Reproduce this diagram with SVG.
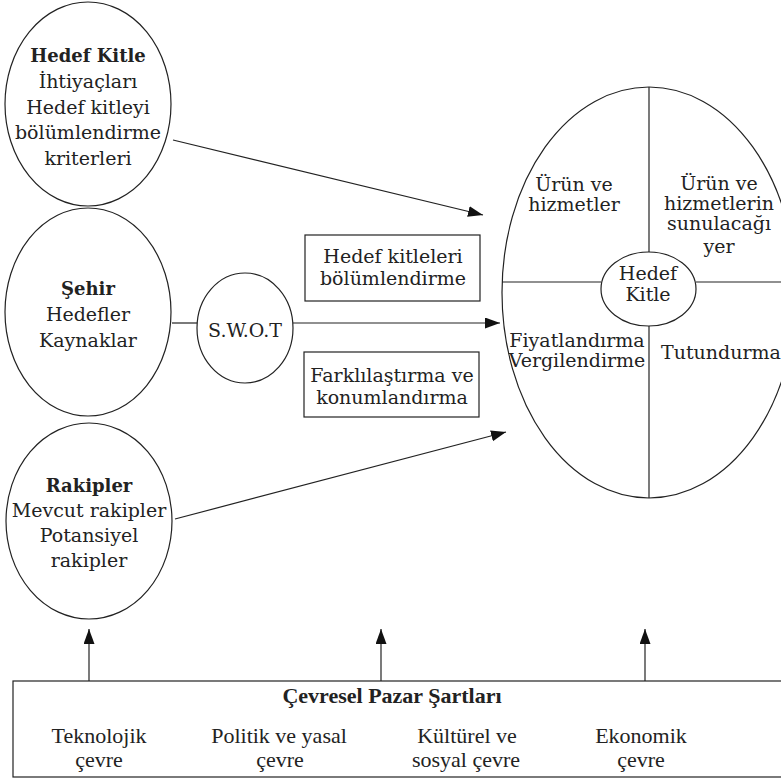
<svg xmlns="http://www.w3.org/2000/svg" width="781" height="782" viewBox="0 0 781 782">
<style>
.sh{fill:#fff;stroke:#222;stroke-width:1.2}
.ln{fill:none;stroke:#222;stroke-width:1.2}
.t{font-family:"DejaVu Serif",serif;font-size:19px;fill:#222;text-anchor:middle}
.b{font-weight:bold;font-size:18px}
.t2{font-family:"Liberation Serif",serif;font-size:22px;fill:#222;text-anchor:middle}
.b2{font-weight:bold;font-size:22px}
</style>
<defs>
<marker id="ah" markerUnits="userSpaceOnUse" markerWidth="16" markerHeight="12" refX="15" refY="5.5" orient="auto">
<path d="M0,0 L15,5.5 L0,11 z" fill="#111"/>
</marker>
</defs>
<rect width="781" height="782" fill="#fff"/>

<g id="connectors">
<line class="ln" x1="173" y1="140" x2="483" y2="215" marker-end="url(#ah)"/>
<line class="ln" x1="172" y1="323" x2="198" y2="323"/>
<line class="ln" x1="293" y1="323" x2="500" y2="323" marker-end="url(#ah)"/>
<line class="ln" x1="175" y1="519" x2="506" y2="432" marker-end="url(#ah)"/>
<line class="ln" x1="89" y1="681" x2="89" y2="629" marker-end="url(#ah)"/>
<line class="ln" x1="381" y1="681" x2="381" y2="629" marker-end="url(#ah)"/>
<line class="ln" x1="645" y1="681" x2="645" y2="629" marker-end="url(#ah)"/>
</g>

<g id="hedef-kitle-node">
<ellipse class="sh" cx="88" cy="104" rx="83" ry="102"/>
<text class="t b" x="88" y="62">Hedef Kitle</text>
<text class="t" x="88" y="88">İhtiyaçları</text>
<text class="t" x="88" y="114">Hedef kitleyi</text>
<text class="t" x="88" y="139">bölümlendirme</text>
<text class="t" x="88" y="165">kriterleri</text>
</g>

<g id="sehir-node">
<ellipse class="sh" cx="88" cy="312" rx="83" ry="104"/>
<text class="t b" x="88" y="295">Şehir</text>
<text class="t" x="88" y="321">Hedefler</text>
<text class="t" x="88" y="347">Kaynaklar</text>
</g>

<g id="swot-node">
<ellipse class="sh" cx="245" cy="328" rx="48" ry="55"/>
<text class="t" x="245" y="337">S.W.O.T</text>
</g>

<g id="rakipler-node">
<ellipse class="sh" cx="89" cy="521" rx="83" ry="98"/>
<text class="t b" x="89" y="492">Rakipler</text>
<text class="t" x="89" y="517">Mevcut rakipler</text>
<text class="t" x="89" y="542">Potansiyel</text>
<text class="t" x="89" y="567">rakipler</text>
</g>

<g id="box-bolumlendirme">
<rect class="sh" x="305" y="235" width="175" height="66"/>
<text class="t" x="393" y="263">Hedef kitleleri</text>
<text class="t" x="393" y="285">bölümlendirme</text>
</g>

<g id="box-farklilastirma">
<rect class="sh" x="304" y="352" width="175" height="65"/>
<text class="t" x="392" y="382">Farklılaştırma ve</text>
<text class="t" x="392" y="404">konumlandırma</text>
</g>

<g id="target-node">
<ellipse class="sh" cx="649" cy="292.5" rx="147" ry="205.5"/>
<line class="ln" x1="502" y1="282" x2="601" y2="282"/>
<line class="ln" x1="696" y1="282" x2="781" y2="282"/>
<line class="ln" x1="649" y1="87" x2="649" y2="252"/>
<line class="ln" x1="649" y1="326" x2="649" y2="498"/>
<ellipse class="sh" cx="648.5" cy="289" rx="47.5" ry="37"/>
<text class="t" x="648" y="280">Hedef</text>
<text class="t" x="648" y="301">Kitle</text>
<text class="t" x="574" y="191">Ürün ve</text>
<text class="t" x="574" y="211">hizmetler</text>
<text class="t" x="719" y="190">Ürün ve</text>
<text class="t" x="719" y="210">hizmetlerin</text>
<text class="t" x="719" y="230">sunulacağı</text>
<text class="t" x="719" y="253">yer</text>
<text class="t" x="577" y="347">Fiyatlandırma</text>
<text class="t" x="577" y="367">Vergilendirme</text>
<text class="t" x="721" y="359">Tutundurma</text>
</g>

<g id="cevresel-node">
<rect class="sh" x="13" y="681" width="780" height="96"/>
<text class="t2 b2" x="392" y="703">Çevresel Pazar Şartları</text>
<text class="t2" x="99" y="743">Teknolojik</text>
<text class="t2" x="99" y="767">çevre</text>
<text class="t2" x="279" y="743">Politik ve yasal</text>
<text class="t2" x="280" y="767">çevre</text>
<text class="t2" x="467" y="743">Kültürel ve</text>
<text class="t2" x="466" y="767">sosyal çevre</text>
<text class="t2" x="641" y="743">Ekonomik</text>
<text class="t2" x="641" y="767">çevre</text>
</g>
</svg>
